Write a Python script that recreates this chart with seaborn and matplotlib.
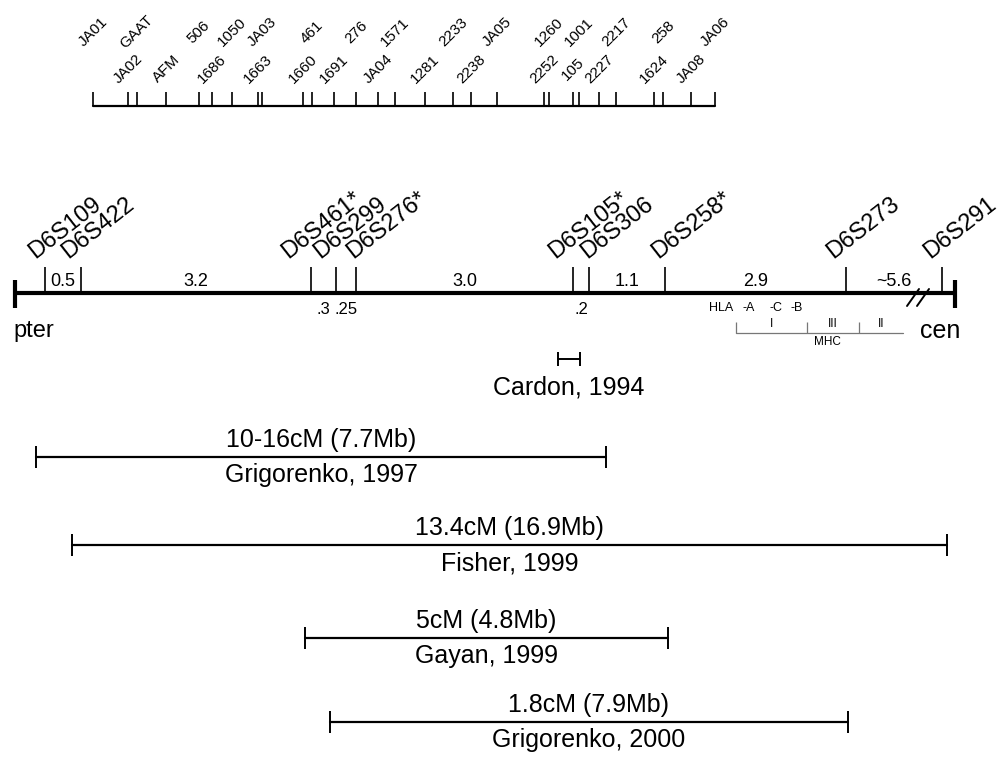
import pandas as pd
import seaborn as sns
import matplotlib.pyplot as plt

# top physical map (marker positions along the contig scale)
top_ticks = [93, 128, 137, 166, 199, 212, 232, 258, 262, 303, 312, 334, 356, 378,
             395, 425, 453, 471, 497, 544, 549, 573, 579, 599, 616, 654, 663, 691, 715]
top_labels = ['JA01', 'JA02', 'GAAT', 'AFM', '506', '1686', '1050', '1663', 'JA03',
              '1660', '461', '1691', '276', 'JA04', '1571', '1281', '2233', '2238',
              'JA05', '2252', '1260', '105', '1001', '2227', '2217', '1624', '258',
              'JA08', 'JA06']

# genetic map markers
markers = ['D6S109', 'D6S422', 'D6S461*', 'D6S299', 'D6S276*', 'D6S105*', 'D6S306',
           'D6S258*', 'D6S273', 'D6S291']
marker_pos = [45, 81, 311, 336, 356, 573, 589, 665, 846, 942]
# distances (cM) between consecutive markers, True = written above the line
gaps = ['0.5', '3.2', '.3', '.25', '3.0', '.2', '1.1', '2.9', '~5.6']
gaps_above = [True, True, False, False, True, False, True, True, True]
chrom_start, chrom_end = 15, 955

# HLA / MHC
hla_genes = ['-A', '-C', '-B']
hla_pos = [749, 776, 797]
mhc_bounds = [736, 807, 859, 903]
mhc_classes = ['I', 'III', 'II']

# linkage studies
studies = ['Grigorenko, 1997', 'Fisher, 1999', 'Gayan, 1999', 'Grigorenko, 2000']
study_start = [36, 72, 305, 330]
study_end = [606, 947, 668, 848]
study_size = ['10-16cM (7.7Mb)', '13.4cM (16.9Mb)', '5cM (4.8Mb)', '1.8cM (7.9Mb)']
cardon = (558, 580)

# layout: shift of each marker label relative to its tick (px)
label_dx = [-10, -13, -23, -16, -3, -18, -2, -7, -13, -12]

sns.set_theme(style='white')
plt.rcParams['font.family'] = ['Liberation Sans', 'DejaVu Sans']
plt.rcParams['text.color'] = 'black'

fig = plt.figure(figsize=(10.04, 7.57), dpi=100)
ax = fig.add_axes([0, 0, 1, 1])

# --- top scale
ax.plot([top_ticks[0], top_ticks[-1]], [106, 106], color='black', lw=1.6)
ax.vlines(top_ticks, 92, 106, color='black', lw=1.2)
for i, (x, lab) in enumerate(zip(top_ticks, top_labels)):
    ax.text(x, 32 if i % 2 == 0 else 69, lab, rotation=45, ha='center', va='center',
            fontsize=11)

# --- chromosome line
y0 = 293
ax.plot([chrom_start, chrom_end], [y0, y0], color='black', lw=3)
ax.vlines([chrom_start, chrom_end], 280, 308, color='black', lw=3)
ax.vlines(marker_pos, 267, y0, color='black', lw=1.2)
for x, m, dx in zip(marker_pos, markers, label_dx):
    ax.text(x + dx, 259, m, rotation=38, rotation_mode='anchor', ha='left',
            va='baseline', fontsize=17)
for i, (g, up) in enumerate(zip(gaps, gaps_above)):
    mid = (marker_pos[i] + marker_pos[i + 1]) / 2
    if up:
        ax.text(mid, 281, g, ha='center', va='center', fontsize=13)
    else:
        ax.text(mid, 309, g, ha='center', va='center', fontsize=12)
# break mark
bx = 913
for dx in (0, 10):
    ax.plot([bx + dx - 6, bx + dx + 6], [306, 289], color='black', lw=1.4)
ax.text(13, 331, 'pter', ha='left', va='center', fontsize=17)
ax.text(920, 331, 'cen', ha='left', va='center', fontsize=18)

# --- HLA / MHC
ax.text(721, 308, 'HLA', ha='center', va='center', fontsize=9)
for x, g in zip(hla_pos, hla_genes):
    ax.text(x, 308, g, ha='center', va='center', fontsize=9)
ax.plot([mhc_bounds[0], mhc_bounds[-1]], [333, 333], color='#777777', lw=0.9)
ax.vlines(mhc_bounds[:-1], 322, 333, color='#777777', lw=0.9)
for i, c in enumerate(mhc_classes):
    ax.text((mhc_bounds[i] + mhc_bounds[i + 1]) / 2, 324, c, ha='center',
            va='center', fontsize=8.5)
ax.text((mhc_bounds[0] + mhc_bounds[-1]) / 2 + 8, 342, 'MHC', ha='center',
        va='center', fontsize=8.5)

# --- Cardon interval
ax.plot(cardon, [359, 359], color='black', lw=1.4)
ax.vlines(cardon, 352, 366, color='black', lw=1.4)
ax.text(sum(cardon) / 2, 387, 'Cardon, 1994', ha='center', va='center', fontsize=18)

# --- linkage study intervals
rows = [457, 545, 638, 722]
seg = pd.DataFrame({
    'x': [v for s, e in zip(study_start, study_end) for v in (s, e)],
    'y': [r for r in rows for _ in range(2)],
    'study': [s for s in studies for _ in range(2)],
})
sns.lineplot(data=seg, x='x', y='y', units='study', estimator=None, sort=False,
             color='black', lw=1.6, ax=ax, legend=False)
for s, e, r, name, size in zip(study_start, study_end, rows, studies, study_size):
    ax.vlines([s, e], r - 11, r + 11, color='black', lw=1.4)
    ax.text((s + e) / 2, r - 17, size, ha='center', va='center', fontsize=18)
    ax.text((s + e) / 2, r + 18, name, ha='center', va='center', fontsize=18)

ax.set_xlim(0, 1004)
ax.set_ylim(757, 0)
ax.axis('off')
fig.savefig('out.png', dpi=100)
